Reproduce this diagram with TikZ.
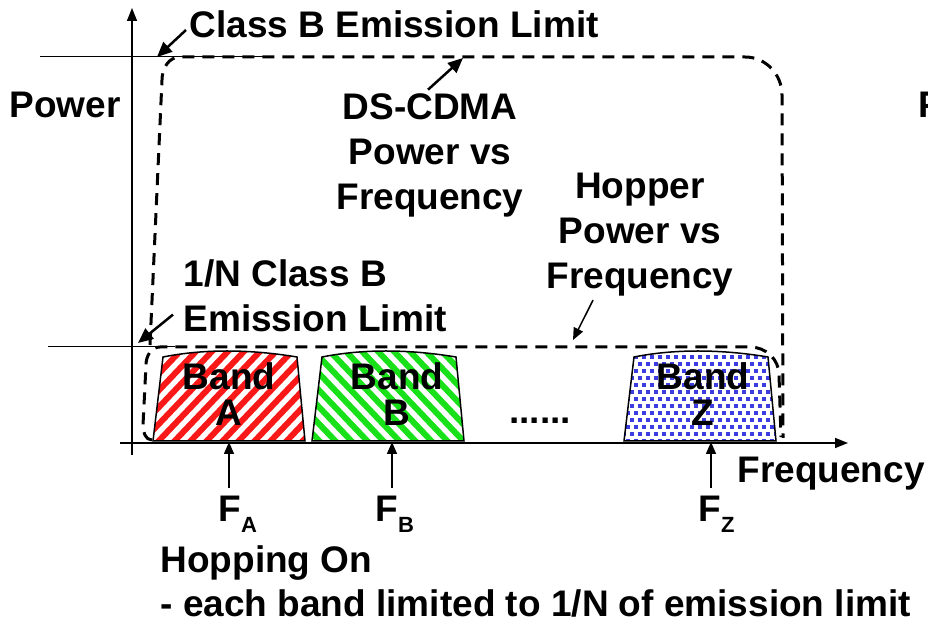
\documentclass[tikz,border=0pt]{standalone}
\usepackage{fontspec}
\setmainfont{Liberation Sans}
\usetikzlibrary{arrows.meta}
\definecolor{stripered}{RGB}{250,25,25}
\definecolor{stripegreen}{RGB}{25,225,25}
\definecolor{dotblue}{RGB}{60,60,225}
\newcommand{\fsub}[1]{F\raisebox{-11pt}{\fontsize{22}{22}\selectfont #1}}
\tikzset{
  lbl/.style={font=\bfseries\fontsize{37}{45}\selectfont, align=center},
  bandlbl/.style={font=\bfseries\fontsize{37}{36}\selectfont, align=center},
  axis/.style={line width=1.5pt, -{Triangle[length=13pt,width=10pt]}},
  limitline/.style={line width=1pt},
  limdash/.style={line width=3pt, dash pattern=on 12pt off 8pt},
  bandline/.style={line width=1.5pt},
  bandshape/.style={insert path={(#1,182) -- (#1+10,266) .. controls (#1+50,274) and (#1+96,274) .. (#1+144,266) -- (#1+152,182) -- cycle}},
  callout/.style={line width=2.5pt, -{Triangle[length=15pt,width=13pt]}},
  thincallout/.style={line width=1.5pt, -{Triangle[length=12pt,width=10pt]}},
  farrow/.style={line width=1.5pt, -{Triangle[length=12pt,width=10pt]}},
  flabel/.style={font=\bfseries\fontsize{37}{37}\selectfont, anchor=base west, outer ysep=5pt}
}
\begin{document}
\begin{tikzpicture}[x=1pt,y=1pt]
	\useasboundingbox (0,0) rectangle (928,623);
	\begin{scope}
		\clip[bandshape=153];
		\foreach \s in {40,56,...,320}
		\draw[stripered, line width=6pt] (\s,175) -- ++(100,105);
	\end{scope}
	\begin{scope}
		\clip[bandshape=312];
		\foreach \s in {310,326,...,590}
		\draw[stripegreen, line width=6pt] (\s,175) -- ++(-100,105);
	\end{scope}
	\begin{scope}
		\clip[bandshape=624];
		\foreach \r in {0,...,13}
		\foreach \c in {0,...,20}
		\fill[dotblue] ({618+8*\c+4*mod(\r,2)},{180+7*\r}) rectangle ++(4,4);
	\end{scope}
	\draw[bandline, bandshape=153];
	\draw[bandline, bandshape=312];
	\draw[bandline, bandshape=624];
	\coordinate (yaxbot) at (132,168);
	\coordinate (yaxtop) at (132,615);
	\coordinate (xaxleft) at (120,180);
	\coordinate (xaxright) at (848,180);
	\draw[axis] (yaxbot) -- (yaxtop);
	\draw[axis] (xaxleft) -- (xaxright);
	\draw[limitline] (40,566) -- (265,566);
	\draw[limitline] (48,276) -- (175,276);
	\draw[limdash] (150,278) -- (162,543) to[out=90,in=180] (180,566) -- (745,566) to[out=0,in=90] (782,528) -- (783,185);
	\draw[limdash] (152,183) to[out=180,in=-90] (143,198) -- (146,258) to[out=90,in=180] (160,276) -- (750,276) to[out=0,in=90] (779,248) -- (781,186);
	\node[lbl, anchor=west] (clsb) at (186,599) {Class B Emission Limit};
	\node[lbl] (power) at (65,518) {Power};
	\node[lbl] (dscdma) at (430,468) {DS-CDMA\\Power vs\\Frequency};
	\node[lbl] (hopper) at (640,388) {Hopper\\Power vs\\Frequency};
	\node[lbl, anchor=west, align=left] (nlimit) at (180,327) {1/N Class B\\Emission Limit};
	\node[bandlbl] (bandA) at (229,229) {Band\\A};
	\node[bandlbl] (bandB) at (397,229) {Band\\B};
	\node[bandlbl] (bandZ) at (703,229) {Band\\Z};
	\node[lbl, anchor=base] (dots) at (540,199) {......};
	\node[lbl, anchor=base west] (freq) at (734,140) {Frequency};
	\node[flabel] (fa) at (215,101) {\fsub{A}};
	\node[flabel] (fb) at (372,101) {\fsub{B}};
	\node[flabel] (fz) at (695,101) {\fsub{Z}};
	\node[lbl, anchor=base west] (hopping) at (157,50) {Hopping On};
	\node[lbl, anchor=base west] (note) at (157,6) {- each band limited to 1/N of emission limit};
	\node[lbl, anchor=base west] (pcut) at (915,505) {P};
	\coordinate (climtip) at (157,566);
	\coordinate (dstip) at (463,565);
	\coordinate (hoptip) at (573,283);
	\coordinate (ntip) at (138,280);
	\draw[callout] ([yshift=-6pt]clsb.west) -- (climtip);
	\draw[callout] ([xshift=-2pt]dscdma.north) -- (dstip);
	\draw[thincallout] ([xshift=-47pt]hopper.south) -- (hoptip);
	\draw[callout] ([shift={(-7pt,21pt)}]nlimit.south west) -- (ntip);
	\foreach \f/\x in {fa/229,fb/392,fz/711}
	\draw[farrow] (\f.north -| \x,0) -- (\x,181);
\end{tikzpicture}
\end{document}
